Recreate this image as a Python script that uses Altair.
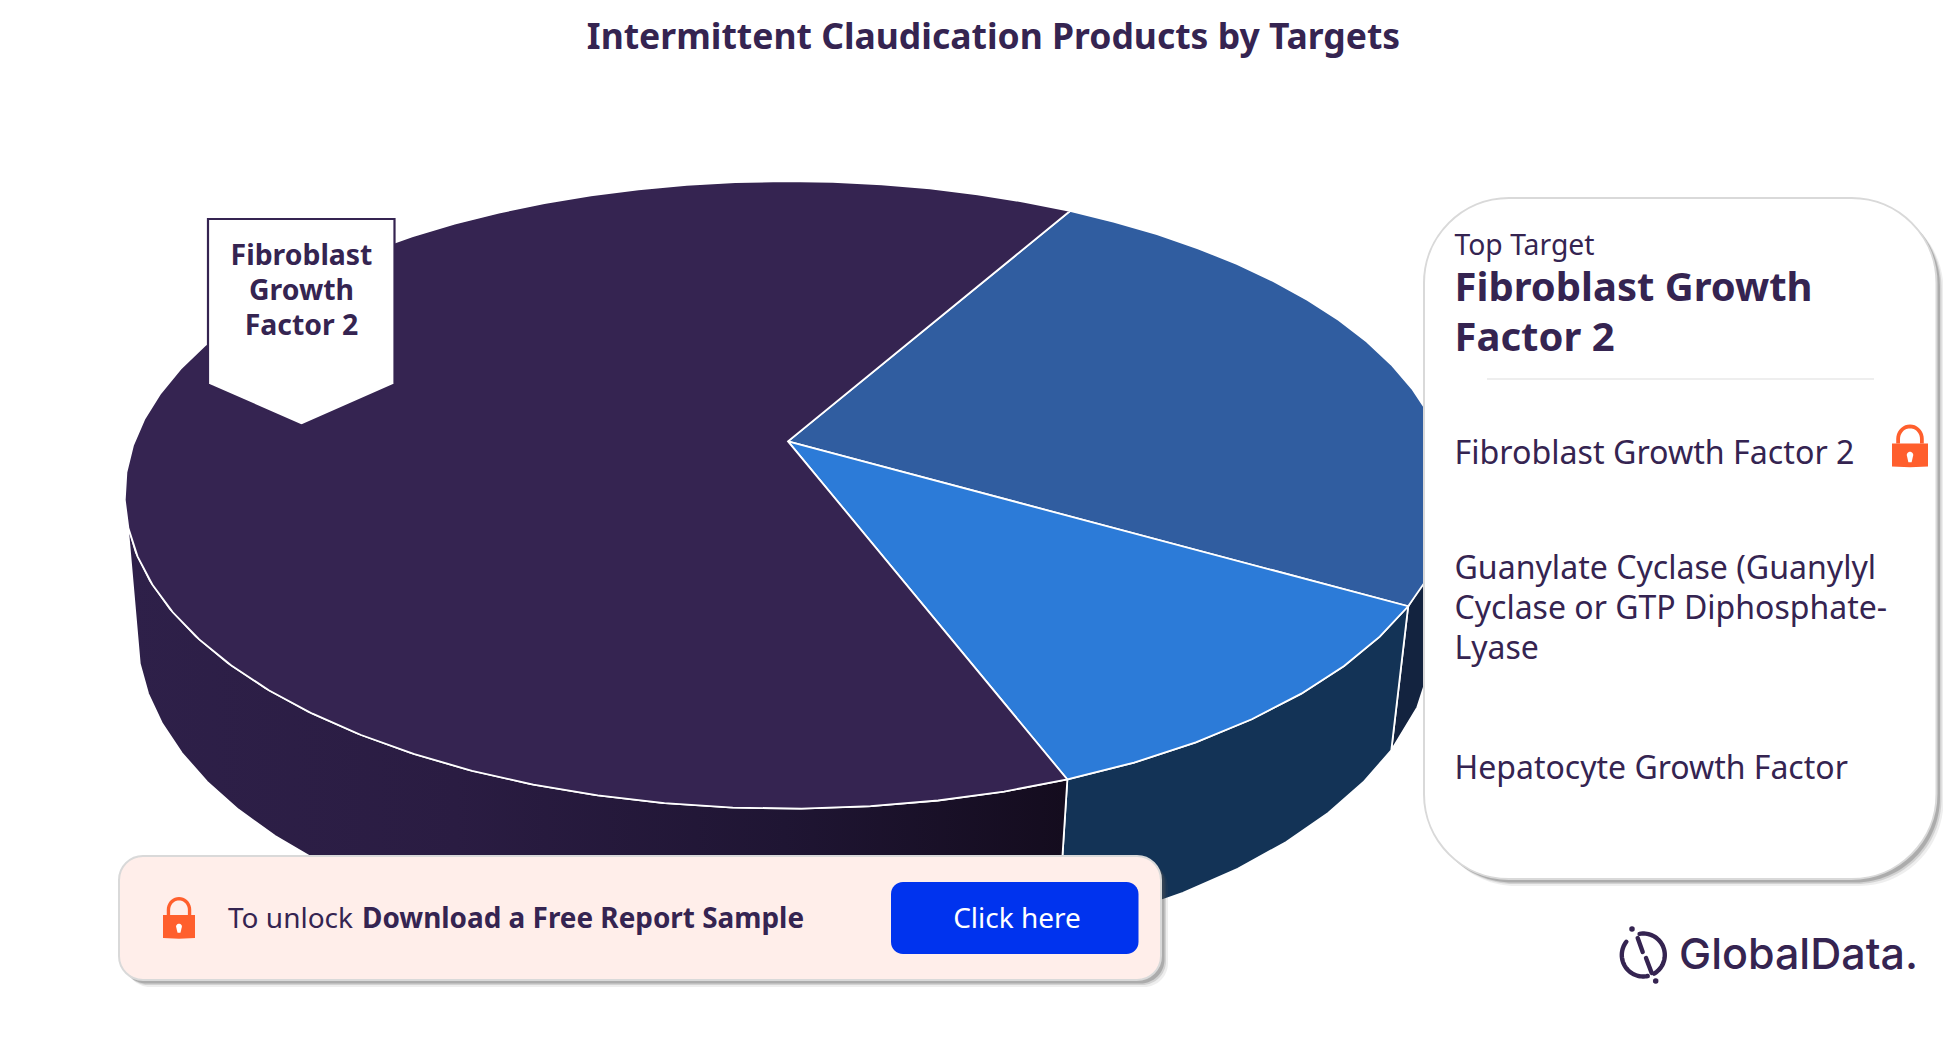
import math
import altair as alt
import pandas as pd

# ---- chart values
slice_names = ["Fibroblast Growth Factor 2",
               "Guanylate Cyclase (Guanylyl Cyclase or GTP Diphosphate-Lyase",
               "Hepatocyte Growth Factor"]
slice_shares = [64.1, 25.0, 10.9]
top_colors = ["#352451", "#305da0", "#2c7bd8"]
wall_colors = ["#2a1c42", "#13233f", "#133356"]

TITLE = "Intermittent Claudication Products by Targets"
INK = "#352451"
ORANGE = "#ff5f2d"
FONT = "Noto Sans"

# ---- perspective model of the disc (screen pixels)
OX, OY = 8, 8
CX, CY = 788.0, 441.4
AX, BY, K = 653.6, 304.6, 0.1706
VPX, VPY, DROP = 680.0, 6830.0, 0.0217
START = -60.3


def top_pt(deg):
    t = math.radians(deg)
    w = 1 - K * math.sin(t)
    return (CX + AX * math.cos(t) / w, CY + BY * math.sin(t) / w)


def bot_pt(deg):
    t = math.radians(deg)
    w = 1 - K * math.sin(t)
    x, y = top_pt(deg)
    f = DROP / (w + DROP)
    return (x + (VPX - x) * f, y + (VPY - y) * f)


def arc(a, b, fn, step=5.0):
    n = max(2, int(abs(b - a) / step))
    return [fn(a + (b - a) * i / n) for i in range(n + 1)]


def shift(pts):
    return [[x - OX, y - OY] for x, y in pts]


def poly(pts, **props):
    pts = shift(pts)
    return {"type": "Feature", "properties": props,
            "geometry": {"type": "Polygon", "coordinates": [pts + [pts[0]]]}}


def line(pts, **props):
    return {"type": "Feature", "properties": props,
            "geometry": {"type": "LineString", "coordinates": shift(pts)}}


# slice angles from the shares
order = [1, 2, 0]  # clockwise from START: slice 2, slice 3, main
angles = {}
cur = START
for i in order:
    angles[i] = (cur, cur + slice_shares[i] / sum(slice_shares) * 360)
    cur = angles[i][1]

tops = [poly([(CX, CY)] + arc(*angles[i], top_pt), fill=top_colors[i]) for i in order]

WALL_END_L, WALL_END_R = 165.0, 15.0
wall2 = poly(arc(WALL_END_R, angles[1][1], top_pt) + arc(angles[1][1], WALL_END_R, bot_pt), fill=wall_colors[1])
wall3 = poly(arc(*angles[2], top_pt) + arc(angles[2][1], angles[2][0], bot_pt), fill=wall_colors[2])
wall1 = poly(arc(angles[0][0], WALL_END_L, top_pt) + arc(WALL_END_L, angles[0][0], bot_pt), fill=wall_colors[0])

callout = poly([(208, 219), (394.5, 219), (394.5, 384.5), (301.5, 425.5), (208, 384.5)], fill="#ffffff")


def lock_parts(left, right, top, body_top, body_bot):
    w = right - left
    mid = (left + right) / 2
    sr = w * 0.33
    sw = w * 0.105
    sy = top + sw / 2 + sr * 1.05
    sh = [(mid - sr, body_top)] + [
        (mid + sr * math.cos(math.radians(a)), sy + sr * 1.05 * math.sin(math.radians(a)))
        for a in range(180, 361, 10)] + [(mid + sr, body_top)]
    body = [(left, body_top), (right, body_top), (right, body_bot), (mid, body_bot + 0.8), (left, body_bot)]
    ky = body_top + (body_bot - body_top) * 0.5
    r = w * 0.09
    hole = [(mid + r * math.cos(math.radians(a)), ky + r * math.sin(math.radians(a))) for a in range(-200, 21, 20)]
    hole += [(mid + r * 0.5, ky + r * 2.2), (mid - r * 0.5, ky + r * 2.2)]
    return sh, sw, body, hole


locks = [lock_parts(1892, 1928, 424.5, 443.5, 466.5), lock_parts(163, 195, 897, 915, 938)]

# logo ring and strokes
LX, LY, LR = 1643.3, 955.0, 21.5


def ring(a, b):
    return [(LX + LR * math.cos(math.radians(a + (b - a) * i / 40)),
             LY + LR * math.sin(math.radians(a + (b - a) * i / 40))) for i in range(41)]


logo_lines = [ring(-100, 60), ring(78, 218),
              [(1637.7, 938), (1642.7, 952)], [(1646, 958), (1651.7, 973)]]
logo_dots = [(1632, 929), (1655.7, 981)]


def dot(c, r=2.8):
    return [(c[0] + r * math.cos(math.radians(a)), c[1] + r * math.sin(math.radians(a))) for a in range(0, 360, 30)]


def geo(features, **mark):
    return alt.Chart(alt.Data(values=features)).mark_geoshape(**mark).project(type="identity", scale=1, translate=[0, 0])


def coloured(features, **mark):
    return geo(features, **mark).encode(fill=alt.Fill("properties.fill:N", scale=None, legend=None))


grad = alt.Gradient(gradient="linear", x1=0, x2=1, y1=0, y2=0,
                    stops=[alt.GradientStop(color="#2e2049", offset=0),
                           alt.GradientStop(color="#2a1c42", offset=0.35),
                           alt.GradientStop(color="#1f1533", offset=0.7),
                           alt.GradientStop(color="#140c1e", offset=1)])

W_STROKE = dict(stroke="#ffffff", strokeWidth=1.8)
layers = [
    coloured([wall2, wall3], **W_STROKE),
    geo([wall1], fill=grad, **W_STROKE),
    coloured(tops, **W_STROKE),
    coloured([callout], stroke=INK, strokeWidth=2.2),
]


def rects(rows):
    df = pd.DataFrame(rows, columns=["x", "y", "x2", "y2"])
    df[["x", "x2"]] -= OX
    df[["y", "y2"]] -= OY
    return df


def rect(rows, **mark):
    return alt.Chart(rects(rows)).mark_rect(**mark).encode(
        x=alt.X("x:Q", scale=None, axis=None), x2="x2:Q",
        y=alt.Y("y:Q", scale=None, axis=None), y2="y2:Q")


PANEL = (1424, 198, 1936.5, 879)
BANNER = (119, 856, 1161, 980)
for box, rad in ((PANEL, 85), (BANNER, 24)):
    for off, op in ((7, 0.10), (5, 0.18), (3.5, 0.3)):
        layers.append(rect([(box[0] + off, box[1] + off, box[2] + off, box[3] + off)],
                           cornerRadius=rad, fill="#555555", opacity=op))
layers.append(rect([PANEL], cornerRadius=85, fill="#ffffff", stroke="#d9d9d9", strokeWidth=2))
layers.append(rect([BANNER], cornerRadius=24, fill="#ffeeea", stroke="#d9d9d9", strokeWidth=2))
layers.append(rect([(891, 882, 1138.5, 954)], cornerRadius=12, fill="#0033ee"))
layers.append(rect([(1487, 378.5, 1874, 379.5)], fill="#dddddd"))

# locks
for sh, sw, body, hole in locks:
    layers.append(geo([line(sh)], filled=False, stroke=ORANGE, strokeWidth=sw))
    layers.append(geo([poly(body)], fill=ORANGE))
    layers.append(geo([poly(hole)], fill="#ffffff"))

# logo
layers.append(geo([line(l) for l in logo_lines], filled=False, stroke=INK, strokeWidth=4.4, strokeCap="round"))
layers.append(geo([poly(dot(c)) for c in logo_dots], fill=INK))


def texts(rows, weight, font=FONT, align="left"):
    df = pd.DataFrame(rows, columns=["t", "x", "y", "s", "c"])
    df["x"] -= OX
    df["y"] -= OY
    return alt.Chart(df).mark_text(font=font, fontWeight=weight, align=align, baseline="alphabetic").encode(
        x=alt.X("x:Q", scale=None, axis=None), y=alt.Y("y:Q", scale=None, axis=None),
        text="t:N", size=alt.Size("s:Q", scale=None, legend=None), color=alt.Color("c:N", scale=None, legend=None))


layers += [
    texts([(TITLE, 993.5, 48.5, 35.5, INK)], 700, align="center"),
    texts([("Fibroblast", 301.5, 265, 28.4, INK), ("Growth", 301.5, 300, 28.4, INK), ("Factor 2", 301.5, 335, 28.4, INK)],
          700, align="center"),
    texts([("Top Target", 1454.5, 254.5, 28.3, INK),
           ("Fibroblast Growth Factor 2", 1454.5, 463.5, 32.2, INK),
           ("Guanylate Cyclase (Guanylyl", 1454.5, 579, 32.1, INK),
           ("Cyclase or GTP Diphosphate-", 1454.5, 619, 32, INK),
           ("Lyase", 1454.5, 659, 32, INK),
           ("Hepatocyte Growth Factor", 1454.5, 779, 32, INK),
           ("To unlock", 228, 928, 28, INK)], 400),
    texts([("Fibroblast Growth", 1454.5, 301, 40, INK), ("Factor 2", 1454.5, 351, 40, INK),
           ("Download a Free Report Sample", 362, 928, 27.9, INK)], 700),
    texts([("Click here", 1017, 928, 28, "#ffffff")], 400, align="center"),
    texts([("GlobalData.", 1679, 969, 43, INK)], 500, font="Inter"),
]

chart = alt.layer(*layers).properties(
    width=1935, height=1030, padding=0, autosize="none", background="#ffffff"
).configure_view(stroke=None)

chart.save("out.html", embed_options={"renderer": "svg", "actions": False})
